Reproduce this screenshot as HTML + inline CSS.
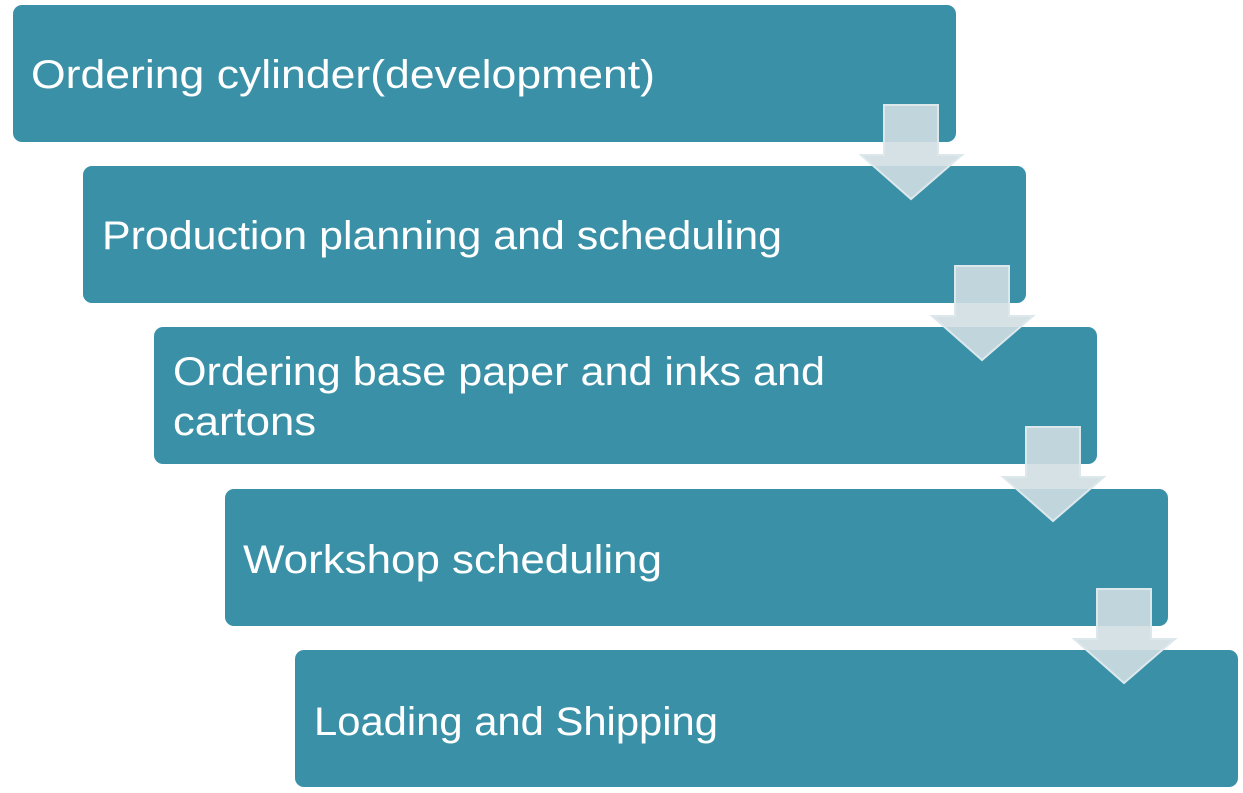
<!DOCTYPE html>
<html><head><meta charset="utf-8"><style>
html,body{margin:0;padding:0;background:#fff;}
svg{display:block}
text{font-family:"Liberation Sans",sans-serif;font-size:40px;fill:#fff;}
</style></head><body>
<svg width="1243" height="793" viewBox="0 0 1243 793">
<g fill="#3a91a7">
<rect x="13" y="5" width="943" height="137" rx="9"/>
<rect x="83" y="166" width="943" height="137" rx="9"/>
<rect x="154" y="327" width="943" height="137" rx="9"/>
<rect x="225" y="489" width="943" height="137" rx="9"/>
<rect x="295" y="650" width="943" height="137" rx="9"/>
</g>
<text x="31" y="88" textLength="624" lengthAdjust="spacingAndGlyphs">Ordering cylinder(development)</text>
<text x="102" y="249" textLength="680" lengthAdjust="spacingAndGlyphs">Production planning and scheduling</text>
<text x="173" y="385" textLength="652" lengthAdjust="spacingAndGlyphs">Ordering base paper and inks and</text>
<text x="173" y="435" textLength="143" lengthAdjust="spacingAndGlyphs">cartons</text>
<text x="243" y="573" textLength="419" lengthAdjust="spacingAndGlyphs">Workshop scheduling</text>
<text x="314" y="735" textLength="404" lengthAdjust="spacingAndGlyphs">Loading and Shipping</text>
<g fill="rgb(209,221,227)" fill-opacity="0.89" stroke="#dde8ec" stroke-width="2">
<path d="M884 105 H938 V155 H962 L911 199 L861 155 H884 Z"/>
<path d="M955 266 H1009 V316 H1033 L982 360 L932 316 H955 Z"/>
<path d="M1026 427 H1080 V477 H1104 L1053 521 L1003 477 H1026 Z"/>
<path d="M1097 589 H1151 V639 H1175 L1124 683 L1074 639 H1097 Z"/>
</g>
</svg>
</body></html>
